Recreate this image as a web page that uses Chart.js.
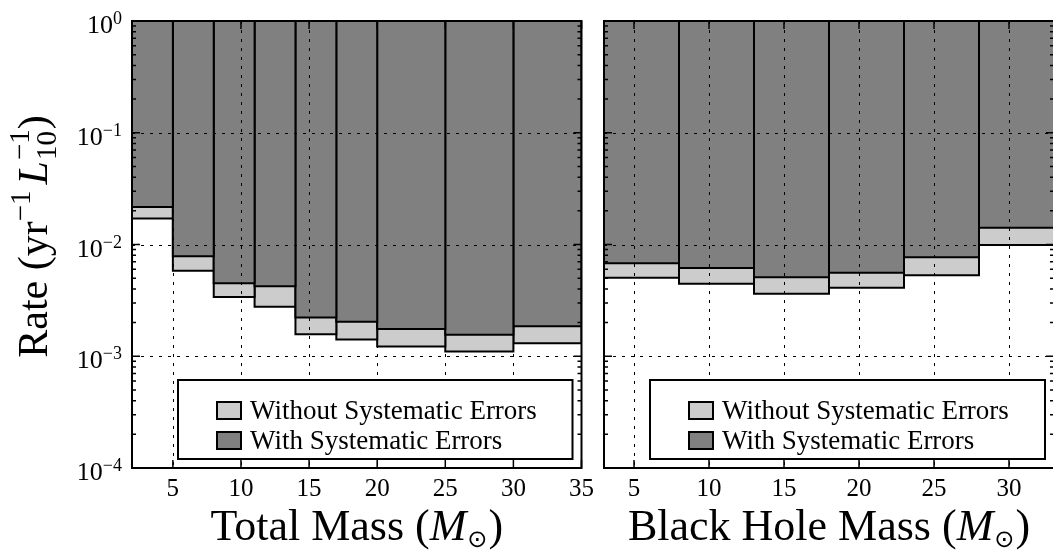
<!DOCTYPE html>
<html>
<head>
<meta charset="utf-8">
<script src="https://cdn.jsdelivr.net/npm/chart.js@4"></script>
<style>
  html, body { margin: 0; padding: 0; background: #fff; overflow: hidden; }
  #wrap { position: relative; width: 1053px; height: 554px; overflow: hidden; }
  canvas { position: absolute; top: 0; }
  #total-chart { left: 0; }
  #bh-chart { left: 600px; }
</style>
</head>
<body>
<div id="wrap">
  <canvas id="total-chart" width="600" height="554"></canvas>
  <canvas id="bh-chart" width="462" height="554"></canvas>
</div>
<script>
// bin edges and rate upper limits
const totalEdges = [2, 5, 8, 11, 14, 17, 20, 25, 30, 35];
const totalNoSys = [0.0171, 0.00583, 0.00339, 0.00278, 0.00157, 0.00141, 0.00122, 0.00110, 0.00131];
const totalSys   = [0.0217, 0.00784, 0.00449, 0.00422, 0.00222, 0.00204, 0.00175, 0.00156, 0.00186];

const bhEdges = [3, 8, 13, 18, 23, 28, 33];
const bhNoSys = [0.00505, 0.00446, 0.00363, 0.00410, 0.00530, 0.00990];
const bhSys   = [0.00679, 0.00617, 0.00508, 0.00560, 0.00768, 0.0141];

const totalTicks = [5, 10, 15, 20, 25, 30, 35];
const bhTicks = [5, 10, 15, 20, 25, 30];
const rateTicks = [1, 0.1, 0.01, 0.001, 0.0001];
const rateExps = ["0", "\u22121", "\u22122", "\u22123", "\u22124"];
const legendLabels = ["Without Systematic Errors", "With Systematic Errors"];

const LIGHT = "#cccccc";
const DARK = "#808080";
const SERIF = '"Liberation Serif", "Times New Roman", serif';
const f = (size, style) => `${style || "normal"} ${size}px ${SERIF}`;

function binDatasets(edges, values, color, order) {
  return values.map((v, i) => ({
    data: [
      { x: edges[i], y: 1 }, { x: edges[i], y: v },
      { x: edges[i + 1], y: v }, { x: edges[i + 1], y: 1 },
    ],
    backgroundColor: color,
    borderColor: "#000",
    borderWidth: 2,
    borderJoinStyle: "miter",
    fill: "end",
    pointRadius: 0,
    pointHoverRadius: 0,
    tension: 0,
    order,
  }));
}

function groupWidth(ctx, group) {
  return Math.max(...group.map(s => { ctx.font = s.font; return ctx.measureText(s.t).width + (s.pad || 0); }));
}

function drawRuns(ctx, runs, x, y, align) {
  const groups = runs.map(r => Array.isArray(r) ? r : [r]);
  const w = groups.reduce((a, g) => a + groupWidth(ctx, g), 0);
  let cx = align === "right" ? x - w : align === "center" ? x - w / 2 : x;
  ctx.textAlign = "left";
  ctx.textBaseline = "alphabetic";
  ctx.fillStyle = "#000";
  for (const g of groups) {
    for (const s of g) {
      ctx.font = s.font;
      ctx.fillText(s.t, cx, y + (s.dy || 0));
    }
    cx += groupWidth(ctx, g);
  }
}

function decor({ xTicks, yLabels, title }) {
  return {
    id: "decor",
    afterDatasetsDraw(chart) {
      const { ctx, chartArea: a, scales: { x, y } } = chart;
      ctx.save();

      // dotted grid over the bars
      ctx.strokeStyle = "#000";
      ctx.lineWidth = 1;
      ctx.setLineDash([3, 6]);
      ctx.beginPath();
      rateTicks.slice(1, -1).forEach(v => {
        const py = Math.round(y.getPixelForValue(v)) + 0.5;
        ctx.moveTo(a.left, py); ctx.lineTo(a.right, py);
      });
      xTicks.filter(v => v > x.min && v < x.max).forEach(v => {
        const px = Math.round(x.getPixelForValue(v)) + 0.5;
        ctx.moveTo(px, a.top); ctx.lineTo(px, a.bottom);
      });
      ctx.stroke();
      ctx.setLineDash([]);

      // inward tick marks
      ctx.lineWidth = 1.5;
      ctx.beginPath();
      for (let d = -4; d <= 0; d++) {
        for (let k = 1; k <= (d < 0 ? 9 : 1); k++) {
          const py = y.getPixelForValue(k * Math.pow(10, d));
          const len = k === 1 ? 8 : 4;
          ctx.moveTo(a.left, py); ctx.lineTo(a.left + len, py);
          ctx.moveTo(a.right, py); ctx.lineTo(a.right - len, py);
        }
      }
      xTicks.forEach(v => {
        const px = x.getPixelForValue(v);
        ctx.moveTo(px, a.bottom); ctx.lineTo(px, a.bottom - 8);
        ctx.moveTo(px, a.top); ctx.lineTo(px, a.top + 8);
      });
      ctx.stroke();

      // frame
      ctx.lineWidth = 2;
      ctx.strokeRect(a.left, a.top, a.right - a.left, a.bottom - a.top);

      // legend box, lower part of the panel
      const bx = a.left + 46, by = a.bottom - 88;
      const bw = a.right - 9 - bx, bh = 79;
      ctx.fillStyle = "#fff";
      ctx.fillRect(bx, by, bw, bh);
      ctx.strokeRect(bx, by, bw, bh);
      [LIGHT, DARK].forEach((c, i) => {
        const py = by + 22 + i * 30;
        ctx.fillStyle = c;
        ctx.fillRect(bx + 39, py, 24, 17);
        ctx.strokeRect(bx + 39, py, 24, 17);
        drawRuns(ctx, [{ t: legendLabels[i], font: f(27) }], bx + 72, py + 16.5, "left");
      });
      ctx.restore();
    },
    afterDraw(chart) {
      const { ctx, chartArea: a, scales: { y } } = chart;
      ctx.save();
      if (yLabels) {
        rateTicks.forEach((v, i) => {
          const py = y.getPixelForValue(v);
          drawRuns(ctx, [{ t: "10", font: f(26) }, { t: rateExps[i], font: f(18), dy: -9 }], 122, py + 12, "right");
        });
        // y axis title, rotated
        ctx.translate(47, (a.top + a.bottom) / 2 - 8);
        ctx.rotate(-Math.PI / 2);
        drawRuns(ctx, [
          { t: "Rate (yr", font: f(42) },
          { t: "\u22121", font: f(29), dy: -17, pad: 6 },
          { t: "L", font: f(42, "italic"), pad: 1 },
          [{ t: "10", font: f(29), dy: 9 }, { t: "\u22121", font: f(29), dy: -18 }],
          { t: ")", font: f(42) },
        ], 0, 0, "center");
        ctx.setTransform(1, 0, 0, 1, 0, 0);
      }
      drawRuns(ctx, [
        { t: title + " (", font: f(44) },
        { t: "M", font: f(44, "italic"), pad: 1 },
        { t: "\u2299", font: '24px "DejaVu Sans"', dy: 7, pad: 1 },
        { t: ")", font: f(44) },
      ], (a.left + a.right) / 2, 540, "center");
      ctx.restore();
    },
  };
}

function makeChart(id, edges, noSys, sys, xTicks, padding, extra) {
  return new Chart(document.getElementById(id), {
    type: "line",
    data: {
      datasets: [
        ...binDatasets(edges, sys, DARK, 0),
        ...binDatasets(edges, noSys, LIGHT, 1),
      ],
    },
    options: {
      responsive: false,
      animation: false,
      events: [],
      layout: { padding },
      plugins: { legend: { display: false }, tooltip: { enabled: false } },
      scales: {
        x: {
          type: "linear",
          bounds: "data",
          min: edges[0],
          max: edges[edges.length - 1],
          afterBuildTicks: s => { s.ticks = xTicks.map(v => ({ value: v })); },
          afterFit: s => { s.height = 86; },
          grid: { display: false, drawTicks: false },
          border: { display: false },
          ticks: {
            autoSkip: false,
            maxRotation: 0,
            padding: 6,
            color: "#000",
            font: { family: SERIF, size: 25 },
            callback: v => String(v),
          },
        },
        y: {
          type: "logarithmic",
          display: false,
          min: 1e-4,
          max: 1,
        },
      },
    },
    plugins: [decor({ xTicks, ...extra })],
  });
}

makeChart("total-chart", totalEdges, totalNoSys, totalSys, totalTicks,
  { left: 132, top: 21, right: 18, bottom: 0 }, { yLabels: true, title: "Total Mass" });
makeChart("bh-chart", bhEdges, bhNoSys, bhSys, bhTicks,
  { left: 4, top: 21, right: 8, bottom: 0 }, { yLabels: false, title: "Black Hole Mass" });
</script>
</body>
</html>
